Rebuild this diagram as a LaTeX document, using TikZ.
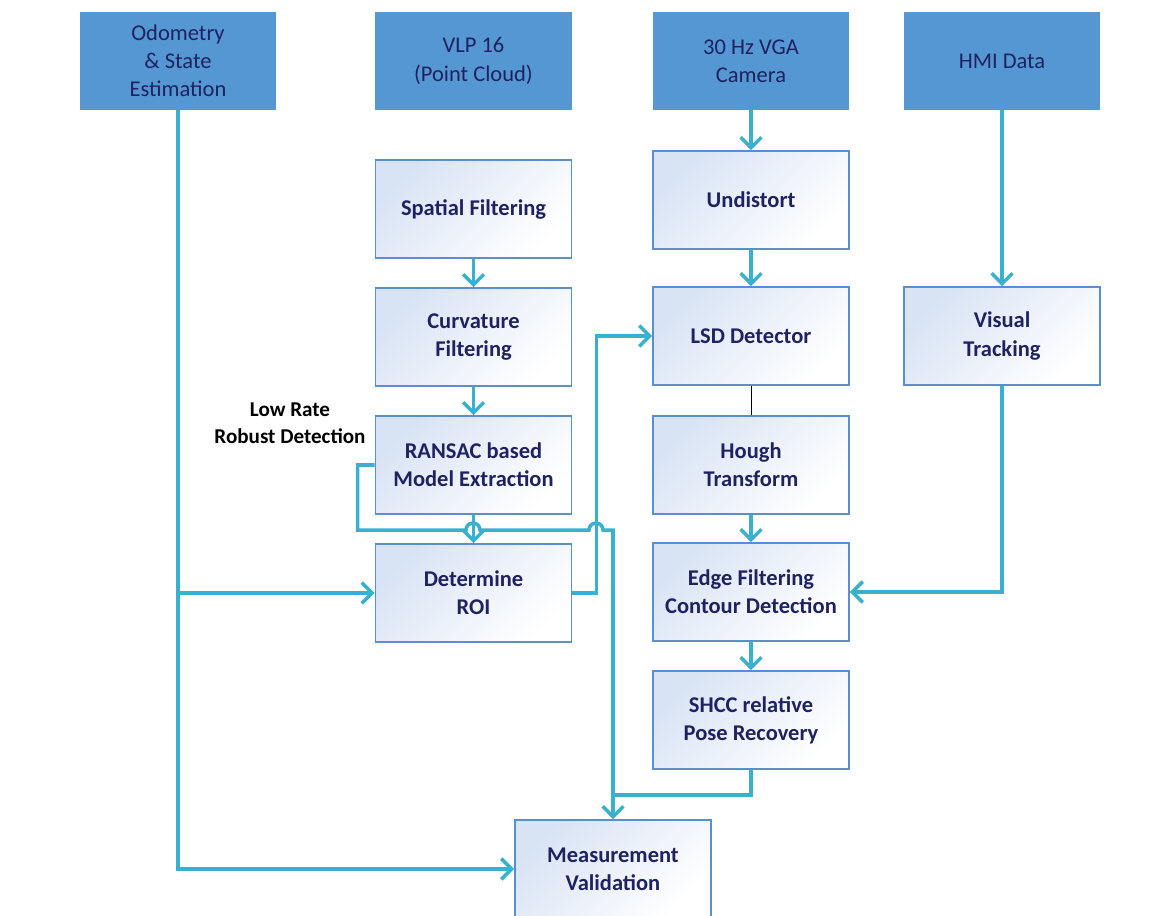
\documentclass[tikz,border=0pt]{standalone}
\usepackage{fontspec}
\setmainfont{Carlito}
\usetikzlibrary{arrows.meta}
\definecolor{srcblue}{HTML}{5597D3}
\definecolor{boxline}{HTML}{5B8FCB}
\definecolor{boxtint}{HTML}{D8E3F4}
\definecolor{navy}{HTML}{1F2260}
\definecolor{flowcyan}{HTML}{38B0CE}
\tikzset{
	source/.style={fill=srcblue, minimum width=4.9cm, minimum height=2.45cm, align=center, text=navy, font=\fontsize{16}{20}\selectfont},
	stage/.style={draw=boxline, line width=1.1pt, top color=boxtint, bottom color=white, shading angle=45, minimum width=4.9cm, minimum height=2.45cm, align=center, text=navy, font=\fontsize{16}{20}\selectfont\bfseries},
	wire/.style={draw=flowcyan, line width=2.5pt},
	flow/.style={wire, -{Straight Barb[length=2.6mm,width=5.2mm]}},
}
\begin{document}
\begin{tikzpicture}[x=0.025cm, y=-0.025cm]
	\useasboundingbox (0,0) rectangle (1165,915);
	\node[source] (odo) at (178,61) {Odometry\\\& State\\Estimation};
	\node[source] (vlp) at (473.5,61) {VLP 16\\(Point Cloud)};
	\node[source] (cam) at (751,61) {30 Hz VGA\\Camera};
	\node[source] (hmi) at (1002,61) {HMI Data};
	\node[stage] (spatial) at (473.5,209) {Spatial Filtering};
	\node[stage] (curv) at (473.5,337) {Curvature\\Filtering};
	\node[stage] (ransac) at (473.5,465) {RANSAC based\\Model Extraction};
	\node[stage] (roi) at (473.5,593) {Determine\\ROI};
	\node[stage] (undist) at (751,200) {Undistort};
	\node[stage] (lsd) at (751,336) {LSD Detector};
	\node[stage] (hough) at (751,465) {Hough\\Transform};
	\node[stage] (edge) at (751,592) {Edge Filtering\\Contour Detection};
	\node[stage] (shcc) at (751,720) {SHCC relative\\Pose Recovery};
	\node[stage] (track) at (1002,336) {Visual\\Tracking};
	\node[stage] (valid) at (613,869) {Measurement\\Validation};
	\node[align=center, font=\fontsize{15}{19}\selectfont\bfseries] (lowrate) at (290,423) {Low Rate\\Robust Detection};
	\coordinate (join) at (613,795);
	\draw[flow] (odo.south) |- (valid.west);
	\draw[flow] (odo.south |- roi.west) -- (roi.west);
	\draw[flow] (spatial) -- (curv);
	\draw[flow] (curv) -- (ransac);
	\draw[flow] (ransac) -- (roi);
	\draw[flow] (ransac.west) -- ++(-17,0) |- (466,530) arc(180:360:7) -- (589,530) arc(180:360:7) -- (613,530) -- (valid.north);
	\draw[flow] (roi.east) -- ++(24,0) |- (lsd.west);
	\draw[flow] (cam) -- (undist);
	\draw[flow] (undist) -- (lsd);
	\draw[color=black] (lsd) -- (hough);
	\draw[flow] (hough) -- (edge);
	\draw[flow] (edge) -- (shcc);
	\draw[wire] (shcc.south) |- (join);
	\draw[flow] (hmi) -- (track);
	\draw[flow] (track.south) |- (edge.east);
\end{tikzpicture}
\end{document}
